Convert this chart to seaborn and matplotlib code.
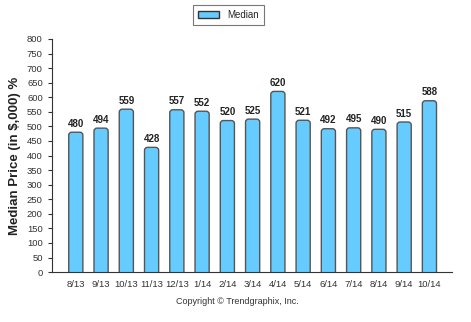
import matplotlib
matplotlib.use("Agg")
import matplotlib.pyplot as plt
import seaborn as sns
import pandas as pd
from matplotlib.patches import FancyBboxPatch, Patch

months = ["8/13", "9/13", "10/13", "11/13", "12/13", "1/14", "2/14", "3/14",
          "4/14", "5/14", "6/14", "7/14", "8/14", "9/14", "10/14"]
median = [480, 494, 559, 428, 557, 552, 520, 525, 620, 521, 492, 495, 490, 515, 588]

df = pd.DataFrame({"month": months, "median": median})

sns.set_theme(style="ticks")
plt.rcParams["font.family"] = ["Liberation Sans", "DejaVu Sans"]

fig = plt.figure(figsize=(4.71, 3.22), dpi=100)
ax = fig.add_axes([0.110, 0.155, 0.850, 0.724])

bar_color = "#66CCFF"
edge = "#555555"
sns.barplot(data=df, x="month", y="median", color=bar_color, width=0.56,
            edgecolor=edge, linewidth=1.0, ax=ax, saturation=1)

ax.set_ylim(0, 800)
ax.set_xlim(-0.95, 14.9)

# replace rectangles with rounded-top bars using their own geometry
pix_x = 400 / (14.9 + 0.95)
pix_y = 233 / 800
aspect = (1 / pix_y) / (1 / pix_x)
for p in list(ax.patches):
    x0, w, h = p.get_x(), p.get_width(), p.get_height()
    fb = FancyBboxPatch((x0, -30), w, h + 30,
                        boxstyle="round,pad=0,rounding_size=0.12",
                        mutation_aspect=aspect,
                        facecolor=bar_color, edgecolor=edge, linewidth=1.0,
                        clip_on=True, zorder=2)
    ax.add_patch(fb)
    p.set_visible(False)
    ax.text(x0 + w / 2, h + 12, f"{int(h)}", ha="center", va="bottom",
            fontsize=7, fontweight="bold", color="#222222")

ax.set_yticks(range(0, 801, 50))
ax.tick_params(axis="both", labelsize=6.8, colors="#333333", length=3, width=0.8)
ax.tick_params(axis="x", length=0, pad=6)
ax.set_xlabel("")
ax.set_ylabel("Median Price (in $,000) %", fontsize=9.5, fontweight="bold", color="#222222")
for s in ["top", "right"]:
    ax.spines[s].set_visible(False)
for s in ["left", "bottom"]:
    ax.spines[s].set_color("#333333")
    ax.spines[s].set_linewidth(0.8)

leg = fig.legend(handles=[Patch(facecolor=bar_color, edgecolor="#333333", label="Median")],
                 loc="upper center", bbox_to_anchor=(0.485, 1.0), fontsize=7,
                 frameon=True, fancybox=False, handlelength=2.2, handleheight=0.8,
                 borderpad=0.5)
leg.get_frame().set_edgecolor("#555555")
leg.get_frame().set_linewidth(0.8)

fig.text(0.505, 0.065, "Copyright \u00a9 Trendgraphix, Inc.", ha="center", va="center",
         fontsize=6.5, color="#333333")

fig.savefig("out.png", dpi=100)
